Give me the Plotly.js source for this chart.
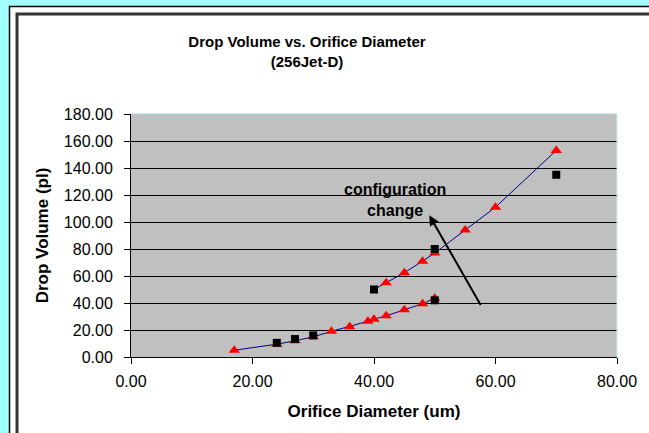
<!DOCTYPE html>
<html>
<head>
<meta charset="utf-8">
<script src="https://cdn.plot.ly/plotly-3.0.1.min.js"></script>
<style>html,body{margin:0;padding:0;background:#fff;}#chart{width:649px;height:433px;}</style>
</head>
<body>
<div id="chart"></div>
<script>
// Lower curve (model, red triangles)
const lowerTriX = [17, 24, 27, 30, 33, 36, 39, 40, 42, 45, 48, 50];
const lowerTriY = [5, 9.5, 12, 15, 19, 22.5, 26.5, 28, 30.5, 35, 39.5, 43.5];
// Upper curve (model, red triangles)
const upperTriX = [42, 45, 48, 50, 55, 60, 70];
const upperTriY = [55, 62.5, 71, 77, 94, 111, 153];
// Connecting lines
const lowerLineX = [17, 24, 27, 30, 33, 36, 39, 40, 42, 45, 48, 50];
const lowerLineY = [5, 9.5, 12, 15, 19, 22.5, 26.5, 28, 30.5, 35, 39.5, 43.5];
const upperLineX = [40, 42, 45, 48, 50, 55, 60, 70];
const upperLineY = [50, 55, 62.5, 71, 77, 94, 111, 153];
// Measured (black squares)
const measX = [24, 27, 30, 40, 50, 50, 70];
const measY = [10.5, 13.3, 16, 50, 42, 80, 135];

const FONT = 'Liberation Sans, Arial, sans-serif';
const L = 131, R = 32, T = 114, B = 76;
const W = 649 - L - R, H = 433 - T - B;
const PX = p => (p - L) / W;
const PY = p => (433 - B - p) / H;

const traces = [
  {x: lowerLineX, y: lowerLineY, mode: 'lines', line: {color: '#000080', width: 1}, hoverinfo: 'skip', showlegend: false},
  {x: upperLineX, y: upperLineY, mode: 'lines', line: {color: '#000080', width: 1}, hoverinfo: 'skip', showlegend: false},
  {x: lowerTriX, y: lowerTriY, mode: 'markers', marker: {symbol: 'triangle-up', color: '#FF0000', size: 10}, showlegend: false},
  {x: upperTriX, y: upperTriY, mode: 'markers', marker: {symbol: 'triangle-up', color: '#FF0000', size: 10}, showlegend: false},
  {x: measX, y: measY, mode: 'markers', marker: {symbol: 'square', color: '#000000', size: 8}, showlegend: false}
];

const layout = {
  width: 649, height: 433,
  margin: {l: L, r: R, t: T, b: B, pad: 0},
  paper_bgcolor: '#A2FFFF',
  plot_bgcolor: '#C0C0C0',
  font: {family: FONT, color: '#000'},
  showlegend: false,
  title: {
    text: '<b>Drop Volume vs. Orifice Diameter</b><br><b>(256Jet-D)</b>',
    font: {family: FONT, size: 15, color: '#000'},
    x: 307 / 649, xanchor: 'center', xref: 'container',
    y: 1 - 47 / 433, yanchor: 'top', yref: 'container'
  },
  xaxis: {
    range: [0, 80], dtick: 20, tick0: 0, tickformat: '.2f',
    showgrid: false, zeroline: false,
    showline: true, linecolor: '#000', linewidth: 1,
    ticks: 'outside', ticklen: 6, tickcolor: '#000', tickwidth: 1,
    ticklabelstandoff: 4,
    tickfont: {family: FONT, size: 16, color: '#000'},
    title: {text: '<b>Orifice Diameter (um)</b>', font: {family: FONT, size: 17, color: '#000'}, standoff: 15},
    fixedrange: true
  },
  yaxis: {
    range: [0, 180], dtick: 20, tick0: 0, tickformat: '.2f',
    showgrid: true, gridcolor: '#000', gridwidth: 1, zeroline: false,
    showline: true, linecolor: '#000', linewidth: 1,
    ticks: 'outside', ticklen: 6, tickcolor: '#000', tickwidth: 1,
    ticklabelstandoff: 8,
    tickfont: {family: FONT, size: 16, color: '#000'},
    title: {text: '<b>Drop Volume (pl)</b>', font: {family: FONT, size: 17, color: '#000'}, standoff: 10},
    fixedrange: true
  },
  shapes: [
    {type: 'rect', xref: 'paper', yref: 'paper', x0: PX(9.5), x1: PX(700), y0: PY(6.5), y1: PY(500),
     line: {color: '#000', width: 1.5}, fillcolor: '#FFFFFF', layer: 'below'},
    {type: 'rect', xref: 'paper', yref: 'paper', x0: PX(17), x1: PX(700), y0: PY(14), y1: PY(500),
     line: {color: '#333', width: 3}, fillcolor: '#FFFFFF', layer: 'below'},
    {type: 'rect', xref: 'paper', yref: 'paper', x0: 0, x1: 1, y0: 0, y1: 1,
     line: {width: 0}, fillcolor: '#C0C0C0', layer: 'below'},
    {type: 'line', xref: 'paper', yref: 'paper', x0: 0, x1: 1, y0: 1, y1: 1, line: {color: '#A8D8D8', width: 1}, layer: 'above'},
    {type: 'line', xref: 'paper', yref: 'paper', x0: 1, x1: 1, y0: 0, y1: 1, line: {color: '#C8F4F4', width: 1}, layer: 'above'}
  ],
  annotations: [
    {x: 49.1, y: 105, xref: 'x', yref: 'y', ax: 57.7, ay: 37.5, axref: 'x', ayref: 'y',
     showarrow: true, arrowhead: 2, arrowsize: 1, arrowwidth: 2, arrowcolor: '#000', text: ''},
    {x: 43.4, y: 116.5, xref: 'x', yref: 'y', showarrow: false,
     text: '<b>configuration</b><br><b>change</b>', font: {family: FONT, size: 16, color: '#000'},
     xanchor: 'center', yanchor: 'middle'}
  ]
};

Plotly.newPlot('chart', traces, layout, {staticPlot: true, displayModeBar: false});
</script>
</body>
</html>
